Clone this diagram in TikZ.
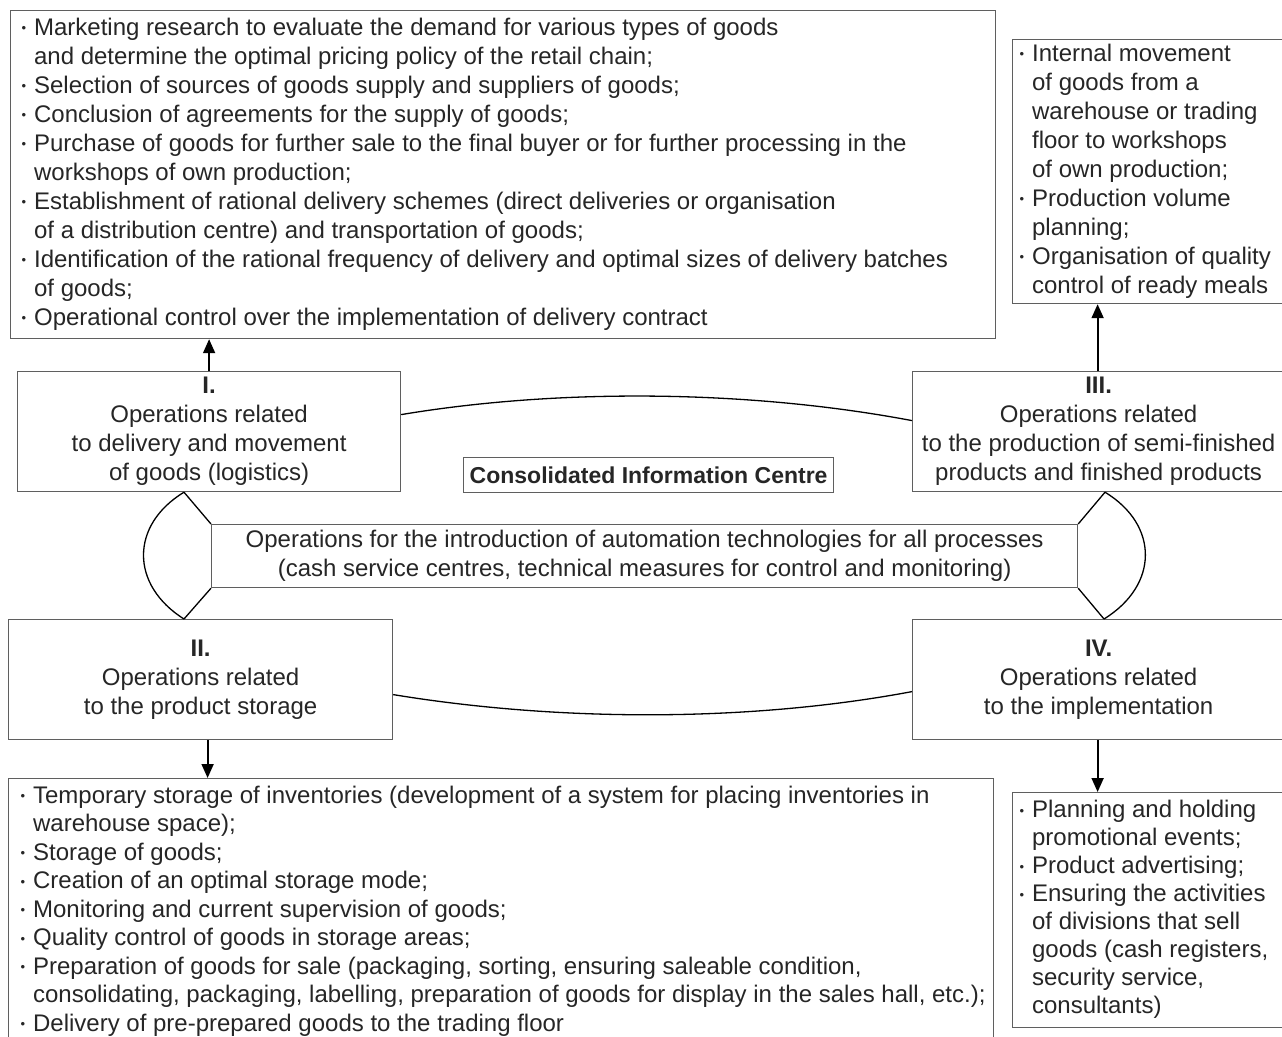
\documentclass[tikz,border=0pt]{standalone}
\usepackage{fontspec}
\setmainfont{Liberation Sans}
\usetikzlibrary{arrows.meta,calc}
\definecolor{txt}{RGB}{38,38,38}
\definecolor{frm}{RGB}{95,95,95}
\newcommand\fs{\fontsize{24}{29}\selectfont}
\newcommand\fsb{\fontsize{24}{28.5}\selectfont}
\newcommand\fsc{\fontsize{24}{28}\selectfont}
\newcommand\bul{\makebox[12.5pt][l]{\fontsize{13}{13}\selectfont\raisebox{2.5pt}{\textbullet}}}
\newcommand\ind{\hspace*{12.5pt}}
\newcommand\natsp{\spaceskip=0pt\xspaceskip=0pt\relax}
\tikzset{
  listbox/.style={draw=frm, line width=1.2pt, anchor=north west, align=left, inner ysep=0pt, text=txt},
  opbox/.style={draw=frm, line width=1.2pt, anchor=north west, align=center, inner sep=0pt, text=txt, font=\fs},
  link/.style={draw=black, line width=1.3pt},
  arr/.style={draw=black, line width=1.8pt, -{Triangle[length=14pt,width=12pt]}}
}
\begin{document}
\begin{tikzpicture}[x=1pt,y=-1pt]
\useasboundingbox (0,0) rectangle (1282,1036);
\fill[white] (0,0) rectangle (1282,1036);

% top list box
\node[listbox, font=\fs, minimum width=985pt, minimum height=328pt, text width=963pt, inner xsep=11pt] (topbox) at (10,10) {\natsp\noindent\begin{tabular}{@{}l@{}}
\bul Marketing research to evaluate the demand for various types of goods\\
\ind and determine the optimal pricing policy of the retail chain;\\
\bul Selection of sources of goods supply and suppliers of goods;\\
\bul Conclusion of agreements for the supply of goods;\\
\bul Purchase of goods for further sale to the final buyer or for further processing in the\\
\ind workshops of own production;\\
\bul Establishment of rational delivery schemes (direct deliveries or organisation\\
\ind of a distribution centre) and transportation of goods;\\
\bul Identification of the rational frequency of delivery and optimal sizes of delivery batches\\
\ind of goods;\\
\bul Operational control over the implementation of delivery contract
\end{tabular}};

% top right list box
\node[listbox, font=\fs, minimum width=272pt, minimum height=264pt, text width=258pt, inner xsep=7pt] (trbox) at (1012,39) {\natsp\noindent\begin{tabular}{@{}l@{}}
\bul Internal movement\\
\ind of goods from a\\
\ind warehouse or trading\\
\ind floor to workshops\\
\ind of own production;\\
\bul Production volume\\
\ind planning;\\
\bul Organisation of quality\\
\ind control of ready meals
\end{tabular}};

% operation boxes
\node[opbox, minimum width=383pt, minimum height=120pt] (b1) at (17,371)
  {\textbf{I.}\\Operations related\\to delivery and movement\\of goods (logistics)};
\node[opbox, minimum width=372pt, minimum height=120pt] (b3) at (912,371)
  {\textbf{III.}\\Operations related\\to the production of semi-finished\\products and finished products};
\node[opbox, minimum width=384pt, minimum height=120pt] (b2) at (8,619)
  {\textbf{II.}\\Operations related\\to the product storage};
\node[opbox, minimum width=372pt, minimum height=120pt] (b4) at (912,619)
  {\textbf{IV.}\\Operations related\\to the implementation};

% centre
\node[opbox, minimum width=370pt, minimum height=35pt, font=\fontsize{23}{28}\selectfont\bfseries] (cic) at (463,457)
  {Consolidated Information Centre};
\node[opbox, minimum width=866pt, minimum height=63pt] (mid) at (211,524)
  {Operations for the introduction of automation technologies for all processes\\(cash service centres, technical measures for control and monitoring)};

% bottom left list box
\node[listbox, font=\fsb, minimum width=985pt, minimum height=266pt, text width=961pt, inner xsep=12pt] (blbox) at (8,778) {\natsp\noindent\begin{tabular}{@{}l@{}}
\bul Temporary storage of inventories (development of a system for placing inventories in\\
\ind warehouse space);\\
\bul Storage of goods;\\
\bul Creation of an optimal storage mode;\\
\bul Monitoring and current supervision of goods;\\
\bul Quality control of goods in storage areas;\\
\bul Preparation of goods for sale (packaging, sorting, ensuring saleable condition,\\
\ind consolidating, packaging, labelling, preparation of goods for display in the sales hall, etc.);\\
\bul Delivery of pre-prepared goods to the trading floor
\end{tabular}};

% bottom right list box
\node[listbox, font=\fsc, minimum width=272pt, minimum height=235pt, text width=258pt, inner xsep=7pt] (brbox) at (1012,792) {\natsp\noindent\begin{tabular}{@{}l@{}}
\bul Planning and holding\\
\ind promotional events;\\
\bul Product advertising;\\
\bul Ensuring the activities\\
\ind of divisions that sell\\
\ind goods (cash registers,\\
\ind security service,\\
\ind consultants)
\end{tabular}};

% lens shapes
\coordinate (L1) at ($(b1.south west)+(167,0)$);
\coordinate (L2) at ($(b2.north west)+(176,0)$);
\coordinate (R1) at ($(b3.south west)+(193,0)$);
\coordinate (R2) at ($(b4.north west)+(192,0)$);
\draw[link] (L1) -- (mid.north west);
\draw[link] (mid.south west) -- (L2);
\draw[link] (L1) .. controls (130,525) and (130,585) .. (L2);
\draw[link] (R1) -- (mid.north east);
\draw[link] (mid.south east) -- (R2);
\draw[link] (R1) .. controls (1159,525) and (1159,585) .. (R2);

% connecting curves
\draw[link] ([yshift=17pt]b1.east) .. controls (560,388) and (750,390) .. ([yshift=11pt]b3.west);
\draw[link] ([yshift=-15pt]b2.east) .. controls (560,722) and (750,722) .. ([yshift=-12pt]b4.west);

% arrows
\draw[arr] (b1.north) -- (b1.north |- topbox.south);
\draw[arr] ([xshift=-1pt]b3.north) -- ([xshift=-1pt]b3.north |- trbox.south);
\draw[arr] ([xshift=7pt]b2.south) -- ([xshift=7pt]b2.south |- blbox.north);
\draw[arr] ([xshift=-1pt]b4.south) -- ([xshift=-1pt]b4.south |- brbox.north);
\end{tikzpicture}
\end{document}
